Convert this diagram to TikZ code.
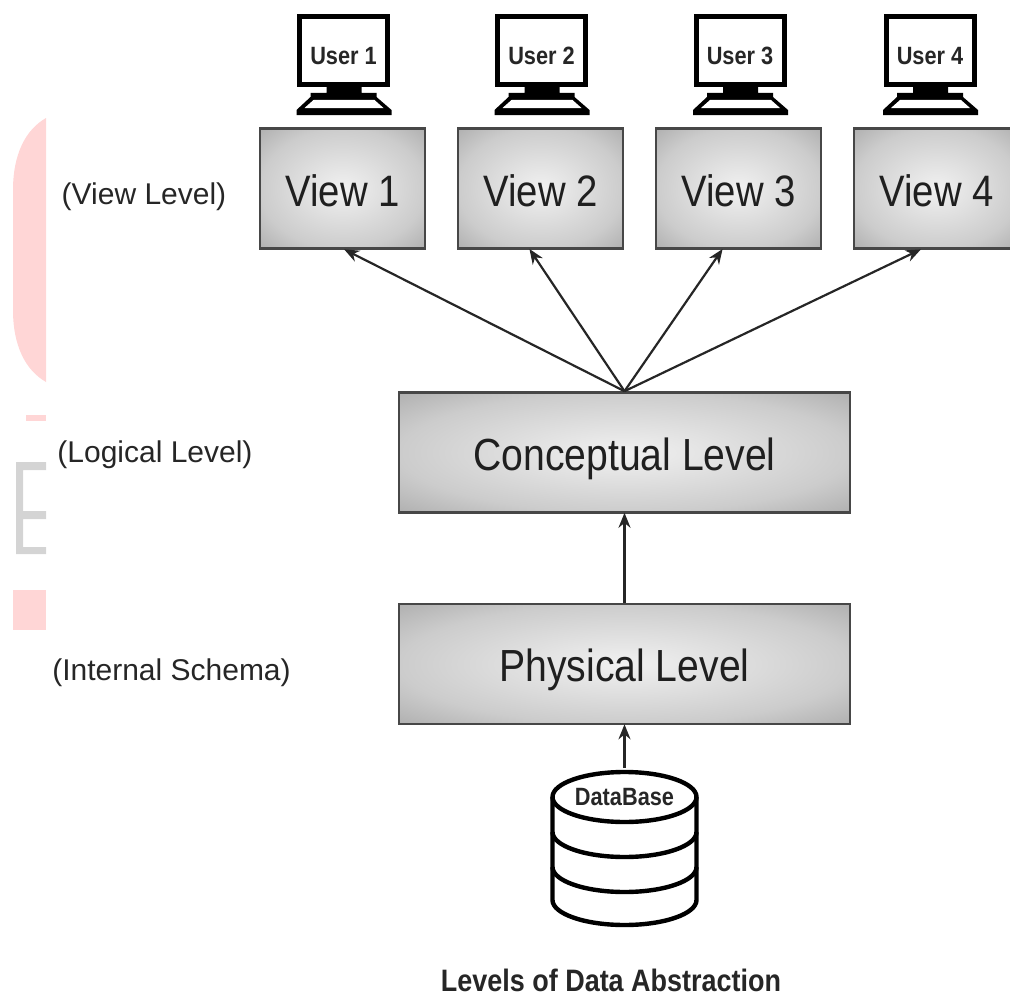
\documentclass[tikz,border=0pt]{standalone}
\usepackage{fontspec}
\setmainfont{Liberation Sans}
\newfontfamily\narrowfont[FakeStretch=0.87]{Liberation Sans}
\usepackage{xcolor}
\usetikzlibrary{arrows.meta, positioning}

\definecolor{markpink}{RGB}{255,214,214}
\definecolor{markgray}{RGB}{212,212,212}
\definecolor{glowmid}{gray}{0.945}
\definecolor{glowedge}{gray}{0.80}
\definecolor{glowcorner}{gray}{0.69}

\pgfdeclareradialshading{boxglow}{\pgfpointorigin}{color(0bp)=(glowmid); color(25bp)=(glowedge); color(35.4bp)=(glowcorner); color(50bp)=(glowcorner)}

\tikzset{
    levelbox/.style={draw=black!72, line width=2.6pt, shading=boxglow, minimum height=120pt, inner sep=0pt, text=black!88, text height=35pt, text depth=0pt, font=\narrowfont\fontsize{44}{48}\selectfont},
    widebox/.style={levelbox, minimum width=451pt, font=\narrowfont\fontsize{45}{48}\selectfont},
    levelarrow/.style={-{Stealth[length=15pt, width=12pt]}, line width=2.2pt, black!85, shorten >=-1pt},
    sidelabel/.style={font=\fontsize{30}{34}\selectfont, text=black!85},
    boldlabel/.style={anchor=base, font=\narrowfont\bfseries\fontsize{25}{28}\selectfont, text=black!85, inner sep=0pt},
    dbline/.style={line width=4.4pt, black}
}

\newcommand{\monitor}[2]{%
    \draw[line width=5pt, black, fill=white] (#1-44,16.5) rectangle (#1+44,84.5);
    \fill[black] (#1-17,85) -- (#1+18,85) -- (#1+18,93) -- (#1+33,93) -- (#1+33,97) -- (#1+48,110) -- (#1+48,115) -- (#1-47,115) -- (#1-47,110) -- (#1-33,97) -- (#1-33,93) -- (#1-17,93) -- cycle;
    \fill[white] (#1-30,100) -- (#1+31,100) -- (#1+40,108) -- (#1-39,108) -- cycle;
    \node[boldlabel] (user#2) at (#1,65) {User #2};
}

\begin{document}
\begin{tikzpicture}[x=1pt, y=-1pt]
    \useasboundingbox (0,0) rectangle (1010,998);
    \clip (0,0) rectangle (1010,998);

    % Marks at the left edge
    \fill[markpink] (46,118) .. controls (25,130) and (13,155) .. (13,190) -- (13,310) .. controls (13,345) and (25,370) .. (46,382) -- cycle;
    \fill[markpink] (26,415) rectangle (46,421);
    \fill[markpink] (13,590) rectangle (46,630);
    \fill[markgray] (46,462) -- (16,462) -- (16,554) -- (46,554) -- (46,547) -- (23,547) -- (23,519) -- (46,519) -- (46,511) -- (23,511) -- (23,470) -- (46,470) -- cycle;

    % Users
    \foreach \x/\n in {343.5/1, 541.5/2, 740/3, 930/4} {
            \monitor{\x}{\n}
        }

    % Views
    \foreach \x/\n in {342.5/1, 540.5/2, 738.5/3, 936.5/4} {
            \node[levelbox, minimum width=165pt] (view\n) at (\x,188.5) {View \n};
        }

    % Levels
    \node[widebox] (conceptual) at (624.5,452.5) {Conceptual Level};
    \node[widebox] (physical) at (624.5,664) {Physical Level};

    % Database
    \node[boldlabel] (database) at (624.5,805) {DataBase};
    \coordinate (dbtop) at (624.5,768);
    \draw[dbline] (624.5,797) ellipse [x radius=72, y radius=25];
    \draw[dbline] (552.5,797) -- (552.5,900) arc[start angle=180, end angle=360, x radius=72, y radius=-25] -- (696.5,797);
    \foreach \y in {832,867} {
            \draw[dbline] (552.5,\y) arc[start angle=180, end angle=360, x radius=72, y radius=-25];
        }

    % Arrows
    \draw[levelarrow] (conceptual.north) -- ([xshift=2.5pt]view1.south);
    \draw[levelarrow] (conceptual.north) -- ([xshift=-10.5pt]view2.south);
    \draw[levelarrow] (conceptual.north) -- ([xshift=-16.5pt]view3.south);
    \draw[levelarrow] (conceptual.north) -- ([xshift=-16.5pt]view4.south);
    \draw[levelarrow] (physical.north) -- (conceptual.south);
    \draw[levelarrow] (dbtop) -- (physical.south);

    % Side labels
    \node[sidelabel] (viewlabel) at (144,197) {(View Level)};
    \node[sidelabel] (logicallabel) at (155,455) {(Logical Level)};
    \node[sidelabel] (internallabel) at (171.5,673) {(Internal Schema)};

    % Caption
    \node[boldlabel, font=\narrowfont\bfseries\fontsize{31}{34}\selectfont] (caption) at (611,991) {Levels of Data Abstraction};
\end{tikzpicture}
\end{document}
